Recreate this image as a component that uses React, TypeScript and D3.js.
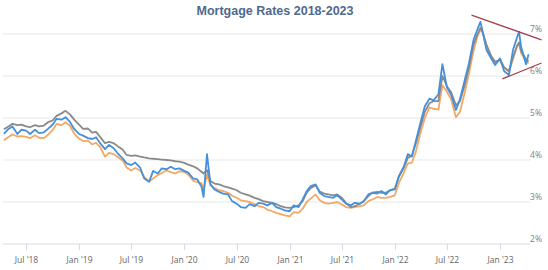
import React from "react";
import * as d3 from "d3";

const TITLE = "Mortgage Rates 2018-2023";

const DATES = [
  "2018-04-15","2018-05-01","2018-05-15","2018-06-01","2018-06-15","2018-07-01","2018-07-15","2018-08-01","2018-08-15","2018-09-01","2018-09-15","2018-10-01","2018-10-15","2018-11-01","2018-11-15","2018-12-01","2018-12-15",
  "2019-01-01","2019-01-15","2019-02-01","2019-02-15","2019-03-01","2019-03-15","2019-04-01","2019-04-15","2019-05-01","2019-05-15","2019-06-01","2019-06-15","2019-07-01","2019-07-15","2019-08-01","2019-08-15","2019-09-01","2019-09-15","2019-10-01","2019-10-15","2019-11-01","2019-11-15","2019-12-01","2019-12-15",
  "2020-01-01","2020-01-15","2020-02-01","2020-02-15","2020-03-01","2020-03-08","2020-03-20","2020-04-01","2020-04-15","2020-05-01","2020-05-15","2020-06-01","2020-06-15","2020-07-01","2020-07-15","2020-08-01","2020-08-15","2020-09-01","2020-09-15","2020-10-01","2020-10-15","2020-11-01","2020-11-15","2020-12-01","2020-12-15",
  "2021-01-01","2021-01-15","2021-02-01","2021-02-15","2021-03-01","2021-03-15","2021-04-01","2021-04-15","2021-05-01","2021-05-15","2021-06-01","2021-06-15","2021-07-01","2021-07-15","2021-08-01","2021-08-15","2021-09-01","2021-09-15","2021-10-01","2021-10-15","2021-11-01","2021-11-15","2021-12-01","2021-12-15",
  "2022-01-01","2022-01-15","2022-02-01","2022-02-15","2022-03-01","2022-03-15","2022-04-01","2022-04-15","2022-05-01","2022-05-15","2022-06-01","2022-06-15","2022-07-01","2022-07-15","2022-08-01","2022-08-15","2022-09-01","2022-09-15","2022-10-01","2022-10-15","2022-10-25","2022-11-01","2022-11-15","2022-12-01","2022-12-15",
  "2023-01-01","2023-01-15","2023-02-01","2023-02-15","2023-03-01","2023-03-08","2023-03-15","2023-04-01","2023-04-10",
];

const BLUE = [
  4.62,4.74,4.80,4.62,4.72,4.70,4.62,4.72,4.64,4.66,4.74,4.84,4.98,4.96,5.02,4.90,4.74,
  4.62,4.58,4.52,4.50,4.54,4.40,4.26,4.36,4.28,4.16,4.04,3.92,3.88,3.94,3.82,3.56,3.48,3.74,3.68,3.80,3.78,3.84,3.78,3.80,
  3.74,3.70,3.56,3.54,3.36,3.12,4.14,3.42,3.30,3.24,3.20,3.18,3.02,2.96,2.88,2.86,2.95,2.90,2.98,2.96,2.92,2.98,2.88,2.84,2.80,
  2.78,2.92,2.88,3.06,3.26,3.38,3.42,3.22,3.14,3.12,3.10,3.16,3.06,2.96,2.92,2.98,2.96,3.02,3.18,3.22,3.20,3.26,3.18,3.28,
  3.30,3.62,3.84,4.14,4.08,4.46,4.92,5.28,5.46,5.42,5.56,6.28,5.72,5.56,5.19,5.45,5.92,6.30,6.86,7.12,7.29,7.08,6.62,6.42,6.26,
  6.42,6.12,6.02,6.62,6.92,7.05,6.70,6.28,6.52,
];

const ORANGE = [
  4.47,4.55,4.61,4.56,4.57,4.55,4.52,4.59,4.53,4.52,4.60,4.71,4.86,4.83,4.90,4.81,4.63,
  4.51,4.45,4.46,4.37,4.41,4.31,4.08,4.17,4.14,4.07,3.99,3.82,3.75,3.81,3.75,3.60,3.49,3.56,3.64,3.69,3.75,3.71,3.68,3.73,
  3.72,3.65,3.51,3.47,3.45,3.29,3.65,3.40,3.33,3.28,3.26,3.22,3.15,3.10,3.04,3.02,3.00,2.95,2.90,2.88,2.82,2.78,2.74,2.71,2.68,
  2.66,2.76,2.74,2.84,3.00,3.08,3.18,3.04,2.98,2.96,2.98,3.00,2.94,2.88,2.86,2.88,2.90,2.92,3.02,3.06,3.12,3.10,3.10,3.12,
  3.16,3.45,3.70,3.92,3.94,4.20,4.67,5.00,5.25,5.22,5.20,5.78,5.62,5.45,5.02,5.15,5.62,6.05,6.60,6.95,7.10,7.05,6.70,6.45,6.30,
  6.40,6.22,6.10,6.40,6.70,6.78,6.55,6.35,6.30,
];

const GRAY = [
  4.73,4.80,4.86,4.83,4.84,4.80,4.78,4.83,4.80,4.82,4.90,4.94,5.05,5.11,5.17,5.08,4.96,
  4.84,4.74,4.75,4.65,4.67,4.55,4.40,4.43,4.40,4.33,4.25,4.12,4.10,4.11,4.08,4.06,4.04,4.03,4.02,4.01,4.00,3.99,3.97,3.96,
  3.93,3.89,3.85,3.80,3.72,3.68,3.76,3.50,3.44,3.42,3.38,3.35,3.32,3.28,3.22,3.18,3.15,3.10,3.07,3.02,3.00,2.98,2.95,2.90,2.87,
  2.86,2.88,2.92,3.02,3.22,3.33,3.40,3.25,3.20,3.18,3.16,3.18,3.10,2.98,2.88,2.90,2.96,3.02,3.14,3.22,3.24,3.22,3.22,3.28,
  3.32,3.60,3.82,4.05,4.10,4.40,4.82,5.15,5.35,5.40,5.40,6.00,5.75,5.62,5.30,5.40,5.80,6.20,6.75,7.00,7.15,7.05,6.75,6.48,6.34,
  6.38,6.20,6.12,6.45,6.72,6.80,6.60,6.40,6.35,
];

const TREND_UPPER_DATES = ["2022-09-24", "2023-05-25"];
const TREND_UPPER_VALUES = [7.45, 6.86];
const TREND_LOWER_DATES = ["2023-01-09", "2023-05-25"];
const TREND_LOWER_VALUES = [5.93, 6.31];

const X_TICKS = ["2018-07-01","2019-01-01","2019-07-01","2020-01-01","2020-07-01","2021-01-01","2021-07-01","2022-01-01","2022-07-01","2023-01-01"];
const Y_TICKS = [2, 3, 4, 5, 6, 7];

const W = 548;
const H = 270;
const parse = d3.utcParse("%Y-%m-%d");

export default function App() {
  const x = d3
    .scaleUtc()
    .domain([parse("2018-04-12")!, parse("2023-04-15")!])
    .range([3, 530]);
  const y = d3.scaleLinear().domain([2, 7]).range([244, 34]);

  const mk = (vals: number[]) => DATES.map((d, i) => ({ d: parse(d)!, v: vals[i] }));
  const line = d3
    .line<{ d: Date; v: number }>()
    .x((p) => x(p.d))
    .y((p) => y(p.v));

  const fmt = d3.utcFormat("%b '%y");
  const trend = (ds: string[], vs: number[]) => line(ds.map((d, i) => ({ d: parse(d)!, v: vs[i] })));

  return (
    <svg
      width={W}
      height={H}
      style={{ position: "absolute", left: 0, top: 0, background: "#fff" }}
      fontFamily="'Open Sans', sans-serif"
    >
      <rect width={W} height={H} fill="#fff" />
      <text
        x={275}
        y={15}
        textAnchor="middle"
        fontFamily="'Liberation Sans', Arial, sans-serif"
        fontWeight="bold"
        fontSize={12.5}
        fill="#4e6990"
      >
        {TITLE}
      </text>
      {Y_TICKS.filter((t) => t > 2).map((t) => (
        <line key={t} x1={3} x2={530} y1={y(t)} y2={y(t)} stroke="#e8e8e8" strokeWidth={1} />
      ))}
      {Y_TICKS.map((t) => (
        <text key={"l" + t} x={542} y={y(t) - 2} textAnchor="end" fontSize={8.5} fill="#808080">
          {t}%
        </text>
      ))}
      <line x1={3} x2={530} y1={y(2)} y2={y(2)} stroke="#d5dbe6" strokeWidth={1} />
      {X_TICKS.map((t) => {
        const xx = Math.round(x(parse(t)!)) + 0.5;
        return (
          <g key={t}>
            <line x1={xx} x2={xx} y1={y(2)} y2={y(2) + 6} stroke="#d5dbe6" />
            <text x={xx} y={263} textAnchor="middle" fontSize={8.5} fill="#666">
              {fmt(parse(t)!)}
            </text>
          </g>
        );
      })}
      <path d={line(mk(ORANGE))!} fill="none" stroke="#f3a865" strokeWidth={1.8} strokeLinejoin="round" />
      <path d={line(mk(GRAY))!} fill="none" stroke="#8a8a8a" strokeWidth={1.8} strokeLinejoin="round" />
      <path d={line(mk(BLUE))!} fill="none" stroke="#4590db" strokeWidth={1.8} strokeLinejoin="round" />
      <path d={trend(TREND_UPPER_DATES, TREND_UPPER_VALUES)!} fill="none" stroke="#a3414c" strokeWidth={1.3} />
      <path d={trend(TREND_LOWER_DATES, TREND_LOWER_VALUES)!} fill="none" stroke="#a3414c" strokeWidth={1.3} />
    </svg>
  );
}
